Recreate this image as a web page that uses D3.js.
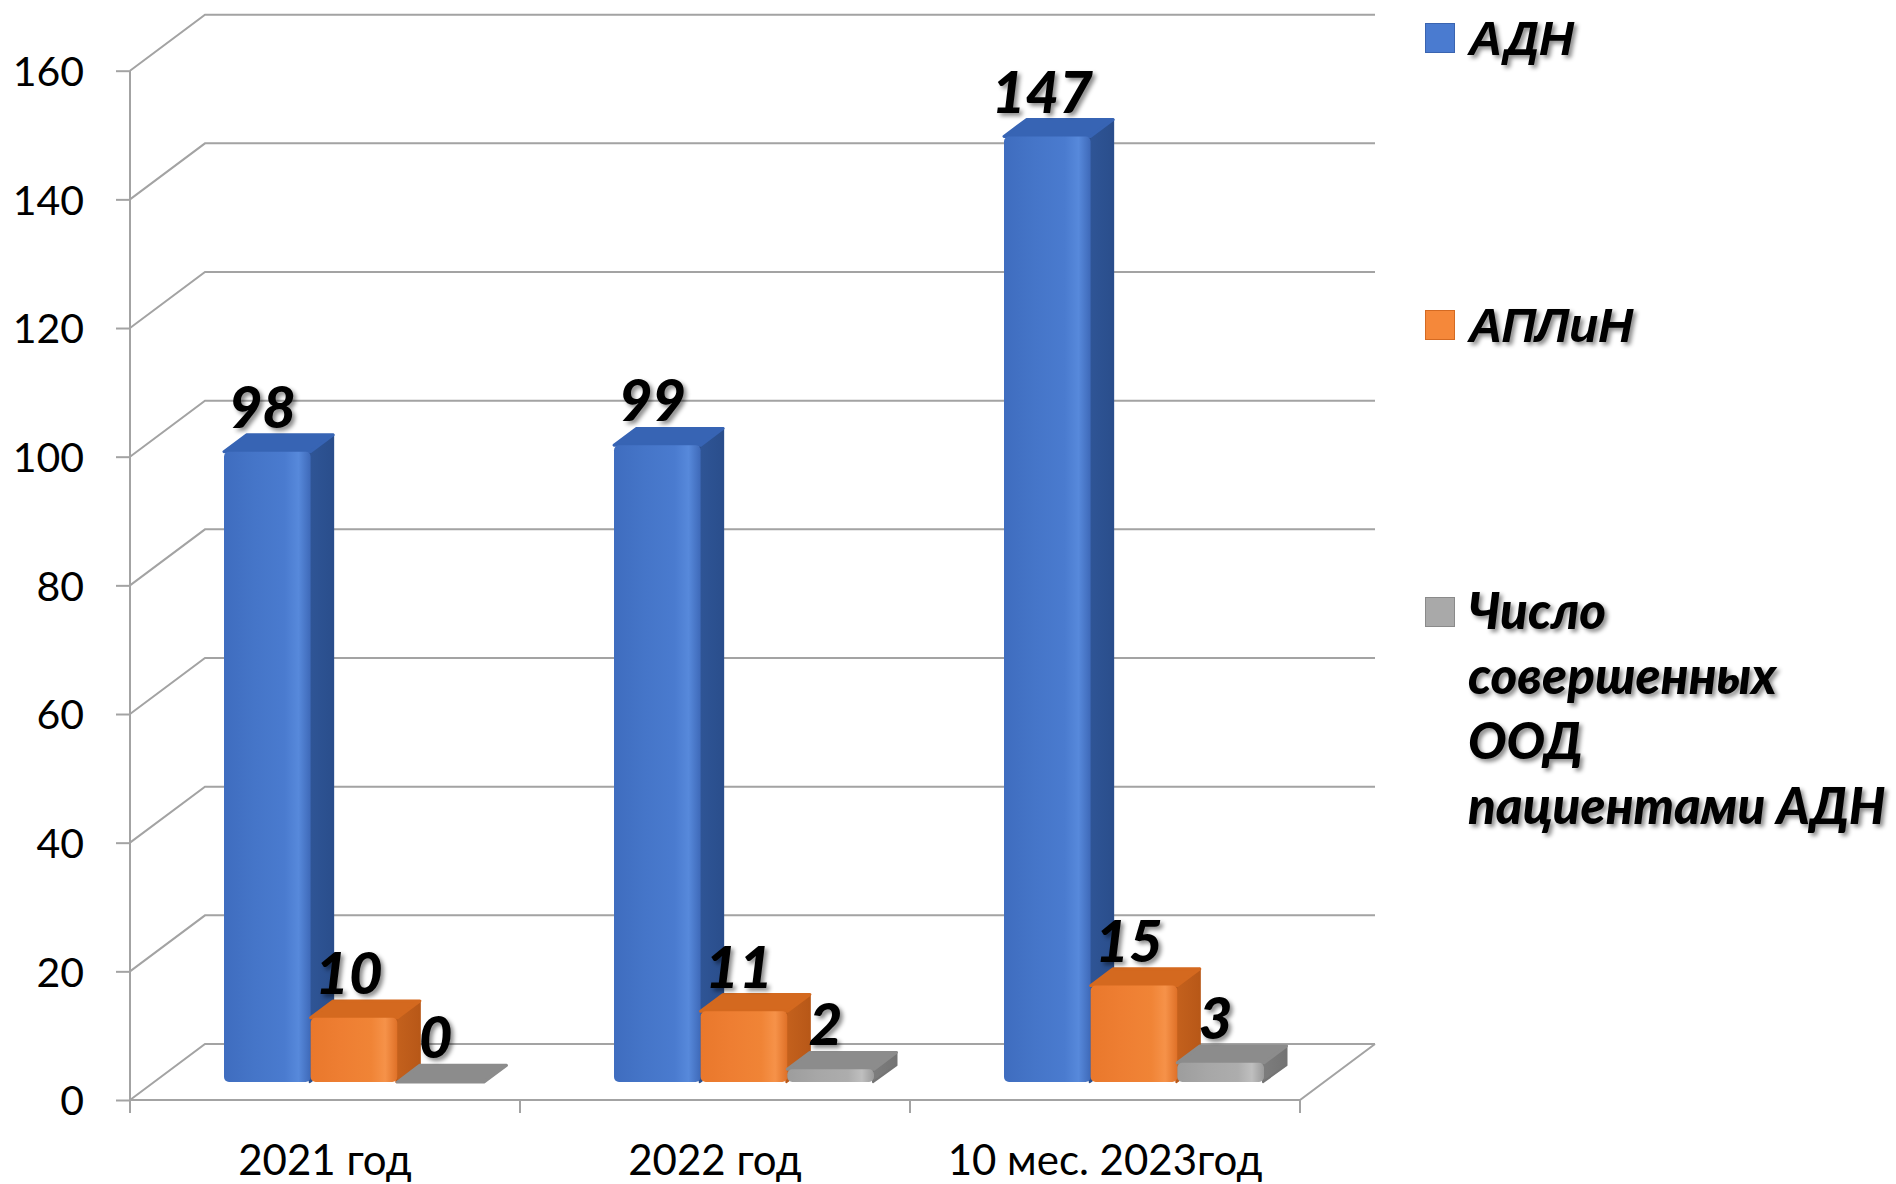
<!DOCTYPE html>
<html>
<head>
<meta charset="utf-8">
<script src="https://cdn.jsdelivr.net/npm/d3@7"></script>
<style>
  html, body { margin: 0; padding: 0; background: #ffffff; }
  svg { display: block; }
</style>
</head>
<body>
<svg id="chart" width="1896" height="1184"></svg>
<script>
// Chart data
const categories = ["2021 год", "2022 год", "10 мес. 2023год"];
const seriesNames = ["АДН", "АПЛиН", "Число совершенных ООД пациентами АДН"];
const adnValues = [98, 99, 147];
const aplinValues = [10, 11, 15];
const oodValues = [0, 2, 3];
const yTickValues = [0, 20, 40, 60, 80, 100, 120, 140, 160];
const legendLines = [["АДН"], ["АПЛиН"], ["Число", "совершенных", "ООД", "пациентами АДН"]];

const series = [adnValues, aplinValues, oodValues];

// Colour sets per series: front gradient stops, side, top, legend swatch
const palette = [
  { front: ["#3f6dbf", "#4575c8", "#4a7bcf", "#5789db", "#3e69b8"], side: ["#2f5596", "#2a4e8c"], top: "#3764b4", swatch: "#4a7bd0", stroke: "#3a64b0" },
  { front: ["#e9782c", "#ee7e32", "#f08436", "#f69249", "#df7128"], side: ["#c4611d", "#b85818"], top: "#d4691f", swatch: "#f5883a", stroke: "#d46a22" },
  { front: ["#9d9d9d", "#a7a7a7", "#adadad", "#bfbfbf", "#9a9a9a"], side: ["#7d7d7d", "#747474"], top: "#8c8c8c", swatch: "#a9a9a9", stroke: "#8a8a8a" }
];

const svg = d3.select("#chart");

// Projection of the 3D box: front plane + receding depth
const depth = { dx: 75, dy: -56 };
const barFront = 0.32, barBack = 0.62;
const barShiftX = 5;

const y = d3.scaleLinear().domain([0, 160]).range([1100, 70.7]);
const x = d3.scaleBand().domain(categories).range([130, 1300]);
const bandW = x.bandwidth();
const barW = bandW / 4.5;
const xs = d3.scaleBand().domain(d3.range(series.length)).range([0.75 * barW, 3.75 * barW]);

const defs = svg.append("defs");

const shadow = defs.append("filter").attr("id", "txtShadow")
  .attr("x", "-20%").attr("y", "-20%").attr("width", "150%").attr("height", "150%");
shadow.append("feDropShadow").attr("dx", 3).attr("dy", 3).attr("stdDeviation", 2)
  .attr("flood-color", "#000").attr("flood-opacity", 0.45);

palette.forEach((p, i) => {
  const g = defs.append("linearGradient").attr("id", "front" + i)
    .attr("x1", "0").attr("x2", "1").attr("y1", "0").attr("y2", "0");
  [0, 0.35, 0.7, 0.86, 1].forEach((o, k) => g.append("stop").attr("offset", o).attr("stop-color", p.front[k]));
  const s = defs.append("linearGradient").attr("id", "side" + i)
    .attr("x1", "0").attr("x2", "1").attr("y1", "0").attr("y2", "0");
  s.append("stop").attr("offset", 0).attr("stop-color", p.side[0]);
  s.append("stop").attr("offset", 1).attr("stop-color", p.side[1]);
});

// Walls and floor grid
const gridColor = "#a3a3a3";
const grid = svg.append("g").attr("fill", "none").attr("stroke", gridColor).attr("stroke-width", 2);
const xL = x.range()[0], xR = x.range()[1];
yTickValues.forEach(v => {
  const yy = y(v);
  grid.append("path").attr("d", d3.line()([[xL, yy], [xL + depth.dx, yy + depth.dy], [xR + depth.dx, yy + depth.dy]]));
});
// floor front and right edges
grid.append("path").attr("d", d3.line()([[xL, y(0)], [xR, y(0)], [xR + depth.dx, y(0) + depth.dy]]));

// Y axis
const yAxis = svg.append("g").attr("transform", `translate(${xL},0)`)
  .call(d3.axisLeft(y).tickValues(yTickValues).tickSize(14).tickPadding(32).tickFormat(d3.format("d")));
yAxis.select(".domain").attr("stroke", gridColor).attr("stroke-width", 2)
  .attr("d", `M0,${y(160)}V${y(0) + 13}`);
yAxis.selectAll(".tick line").attr("stroke", gridColor).attr("stroke-width", 2);
yAxis.selectAll(".tick text").attr("font-family", "Lato, 'Open Sans', sans-serif")
  .attr("font-size", 41).attr("fill", "#000").attr("dy", "0.36em");

// X axis ticks and labels
const xAxis = svg.append("g").attr("transform", `translate(0,${y(0)})`);
const tickXs = categories.map(c => x(c)).concat([xR]);
xAxis.selectAll("line").data(tickXs).join("line")
  .attr("x1", d => d).attr("x2", d => d).attr("y1", 0).attr("y2", 13)
  .attr("stroke", gridColor).attr("stroke-width", 2);
xAxis.selectAll("text").data(categories).join("text")
  .attr("x", d => x(d) + bandW / 2).attr("y", 75)
  .attr("text-anchor", "middle")
  .attr("font-family", "Lato, 'Open Sans', sans-serif").attr("font-size", 42).attr("fill", "#000")
  .text(d => d);

// Bars (drawn left to right so each front face covers its neighbour's side)
const bars = svg.append("g");
const f0 = { dx: depth.dx * barFront + barShiftX, dy: depth.dy * barFront };
const dd = { dx: depth.dx * (barBack - barFront), dy: depth.dy * (barBack - barFront) };

categories.forEach((c, ci) => {
  series.forEach((vals, si) => {
    const v = vals[ci];
    const p = palette[si];
    const x0 = x(c) + xs(si) + f0.dx;
    const x1 = x0 + barW;
    const yT = y(v) + f0.dy;
    const yB = y(0) + f0.dy;
    const g = bars.append("g");
    if (yB - yT > 0.5) {
      // side face
      g.append("path")
        .attr("d", d3.line()([[x1 - 1, yT], [x1 + dd.dx, yT + dd.dy], [x1 + dd.dx, yB + dd.dy], [x1 - 1, yB]]) + "Z")
        .attr("fill", `url(#side${si})`).attr("stroke", p.side[1]).attr("stroke-width", 2).attr("stroke-linejoin", "round");
    }
    // top face
    g.append("path")
      .attr("d", d3.line()([[x0, yT], [x1, yT], [x1 + dd.dx, yT + dd.dy], [x0 + dd.dx, yT + dd.dy]]) + "Z")
      .attr("fill", p.top).attr("stroke", p.top).attr("stroke-width", 3).attr("stroke-linejoin", "round");
    if (yB - yT > 0.5) {
      // front face
      g.append("rect")
        .attr("x", x0).attr("y", yT).attr("width", barW).attr("height", yB - yT)
        .attr("rx", Math.min(5, (yB - yT) / 2)).attr("fill", `url(#front${si})`);
    }
  });
});

// Value labels
const labels = svg.append("g")
  .attr("font-family", "Lato, 'Open Sans', sans-serif").attr("font-weight", 900)
  .attr("font-style", "italic").attr("font-size", 58).attr("fill", "#000")
  .attr("text-anchor", "middle").attr("filter", "url(#txtShadow)");
categories.forEach((c, ci) => {
  series.forEach((vals, si) => {
    const v = vals[ci];
    const cx = x(c) + xs(si) + f0.dx + barW / 2 - 5;
    labels.append("text")
      .attr("x", cx).attr("y", y(v) + depth.dy * barBack - 7)
      .text(v);
  });
});

// Legend
const legend = svg.append("g");
const legendTop = [23, 310, 597];
const legendFonts = [
  { family: "'Liberation Sans', Arial, sans-serif", size: 48, weight: 700 },
  { family: "'Liberation Sans', Arial, sans-serif", size: 48, weight: 700 },
  { family: "Lato, 'Open Sans', sans-serif", size: 51, weight: 900 }
];
seriesNames.forEach((name, i) => {
  const g = legend.append("g");
  g.append("rect").attr("x", 1425.5).attr("y", legendTop[i] + 0.5).attr("width", 29).attr("height", 29)
    .attr("fill", palette[i].swatch).attr("stroke", palette[i].stroke).attr("stroke-width", 1);
  const t = g.append("text")
    .attr("font-family", legendFonts[i].family).attr("font-size", legendFonts[i].size)
    .attr("font-weight", legendFonts[i].weight).attr("font-style", "italic").attr("fill", "#000")
    .attr("filter", "url(#txtShadow)");
  legendLines[i].forEach((line, li) => {
    t.append("tspan").attr("x", 1468).attr("y", legendTop[i] + 32 + li * 65).text(line);
  });
});
</script>
</body>
</html>
